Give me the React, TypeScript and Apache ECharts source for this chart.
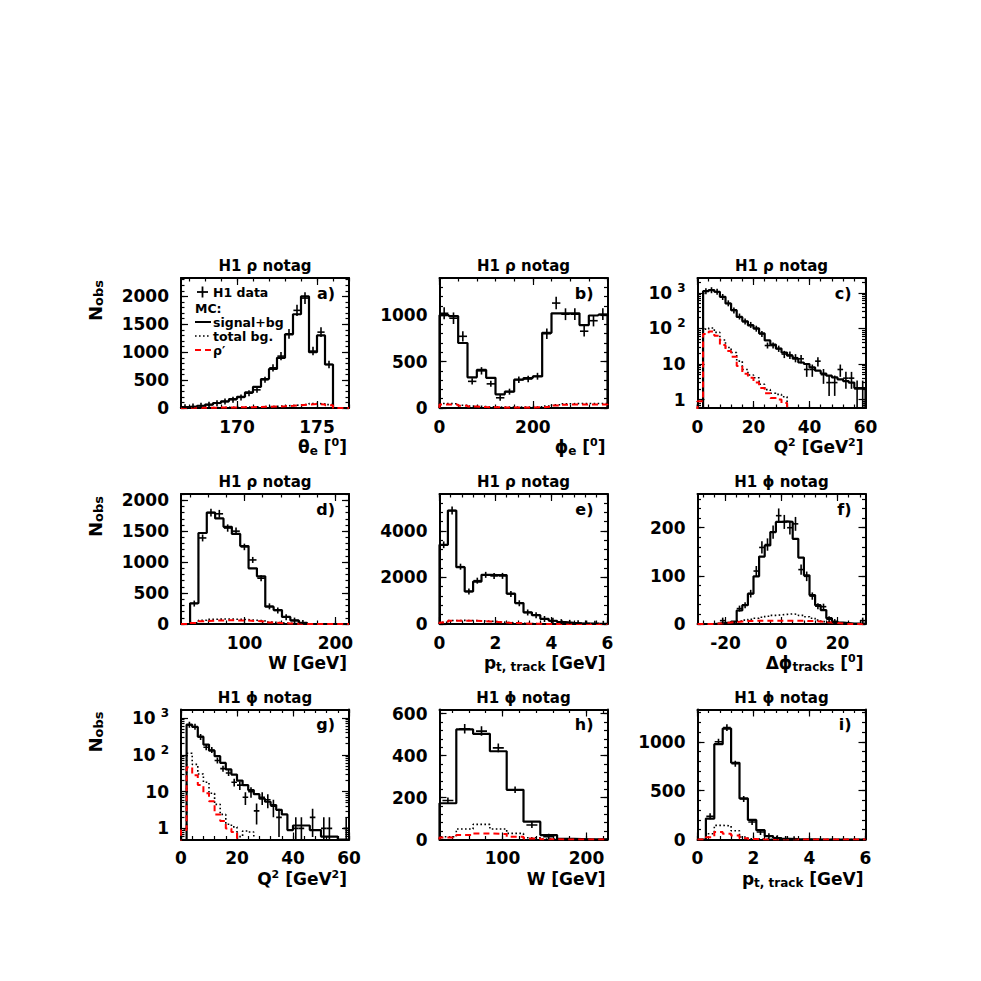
import React, { useEffect, useRef } from 'react';
import * as echarts from 'echarts';

const F = '"DejaVu Sans", "Liberation Sans", Arial, sans-serif';

function binEdges(start: number, width: number, n: number): number[] {
  const e: number[] = [];
  for (let k = 0; k <= n; k++) e.push(Math.round((start + k * width) * 1e6) / 1e6);
  return e;
}

const RHO_TITLE = 'H1 ρ notag';
const PHI_TITLE = 'H1 ϕ notag';

// ---------- a) theta_e ----------
const aEdges = binEdges(166.5, 0.5, 19);
const aMC = [15, 25, 40, 60, 90, 120, 160, 200, 280, 380, 520, 700, 900, 1320, 1680, 2000, 1000, 1300, 780];
const aData = [15, 25, 40, 60, 85, 115, 150, 190, 265, 325, 505, 720, 930, 1330, 1750, 1970, 1020, 1360, 780];
const aBg = [4, 5, 6, 7, 9, 11, 13, 15, 18, 22, 26, 30, 38, 45, 55, 65, 80, 75, 60];
const aRho = [3, 4, 5, 6, 7, 9, 11, 13, 15, 18, 22, 26, 32, 40, 50, 60, 72, 62, 48];
const aXLabels = [170, 175];
const aYLabels = [0, 500, 1000, 1500, 2000];

// ---------- b) phi_e ----------
const bEdges = binEdges(0, 20, 18);
const bMC = [1000, 990, 700, 330, 410, 325, 147, 176, 305, 323, 340, 810, 1020, 1020, 1020, 893, 996, 1004];
const bData = [1020, 967, 772, 287, 400, 260, 110, 176, 305, 312, 342, 800, 1130, 1010, 1010, 827, 940, 1010];
const bBg = [48, 45, 30, 20, 15, 12, 10, 10, 10, 10, 12, 20, 35, 45, 48, 48, 48, 48];
const bRho = [38, 36, 25, 15, 10, 8, 6, 6, 6, 6, 8, 15, 28, 36, 38, 38, 38, 38];
const bXLabels = [0, 200];
const bYLabels = [0, 500, 1000];

// ---------- c) Q2 (rho) ----------
const cEdges = binEdges(0, 2, 30);
const cMC = [0, 1110, 1190, 1070, 770, 500, 324, 209, 158, 122, 100, 72, 46, 35, 27, 21, 17, 14, 11, 10, 8, 6.5, 5.4, 4.7, 4.2, 3.7, 3.3, 3.0, 2.1, 2.1];
const cData = [0, 1100, 1180, 1060, 760, 505, 320, 215, 155, 125, 98, 70, 33, 33, 27, 19, 18, 15, 14, 7, 7, 12, 5, 3, 3, 7, 4, 4, 2, 2];
const cBg = [0.9, 95, 102, 77, 47, 29, 21, 12, 7, 4.9, 4.1, 2.7, 1.9, 1.5, 1.4, 1.2, 0, 0, 0, 0, 0, 0, 0, 0, 0, 0, 0, 0, 0, 0];
const cRho = [0.9, 69, 82, 62, 34, 23, 16, 8.8, 5.3, 4.1, 3, 2.1, 1.5, 1.1, 1, 0.8, 0, 0, 0, 0, 0, 0, 0, 0, 0, 0, 0, 0, 0, 0];
const cXLabels = [0, 20, 40, 60];
const cYLabels = [1, 10, 100, 1000];

// ---------- d) W (rho) ----------
const dEdges = binEdges(40, 9.2, 14);
const dMC = [335, 1470, 1800, 1705, 1570, 1455, 1260, 900, 770, 280, 225, 115, 60, 20];
const dData = [330, 1390, 1800, 1780, 1550, 1500, 1245, 1035, 740, 285, 220, 110, 55, 18];
const dBg = [20, 60, 75, 80, 80, 75, 70, 60, 50, 30, 20, 10, 5, 2];
const dRho = [15, 45, 55, 58, 60, 58, 55, 48, 40, 25, 15, 8, 4, 2];
const dXLabels = [100, 200];
const dYLabels = [0, 500, 1000, 1500, 2000];

// ---------- e) pt,track (rho) ----------
const eEdges = binEdges(0, 0.3, 20);
const eMC = [3400, 4870, 2440, 1400, 1820, 2110, 2100, 2100, 1300, 900, 500, 380, 220, 140, 80, 50, 30, 20, 12, 8];
const eData = [3400, 4870, 2460, 1390, 1860, 2110, 2065, 2065, 1290, 890, 495, 375, 215, 135, 80, 50, 30, 20, 12, 8];
const eBg = [70, 150, 155, 150, 140, 120, 100, 70, 50, 30, 18, 10, 5, 3, 2, 1, 0, 0, 0, 0];
const eRho = [60, 140, 145, 140, 130, 110, 90, 60, 40, 25, 15, 8, 4, 2, 1, 0, 0, 0, 0, 0];
const eXLabels = [0, 2, 4, 6];
const eYLabels = [0, 2000, 4000];

// ---------- f) delta phi tracks (phi) ----------
const fEdges = binEdges(-30, 2, 30);
const fMC = [0, 0, 0, 1, 2, 3, 5, 28, 39, 63, 99, 140, 163, 191, 212, 213, 212, 177, 138, 101, 60, 39, 29, 12, 5, 3, 2, 1, 1, 1];
const fData = [0, 0, 0, 0, 7, 0, 0, 32, 39, 63, 110, 159, 165, 191, 225, 212, 200, 208, 113, 99, 58, 37, 36, 10, 4, 0, 0, 0, 0, 7];
const fBg = [0, 0, 0, 1, 2, 3, 4, 6, 8, 10, 12, 14, 16, 18, 19, 20, 21, 20, 18, 15, 12, 8, 5, 3, 2, 1, 0, 0, 0, 0];
const fRho = [0, 0, 0, 1, 2, 3, 4, 5, 6, 6, 7, 7, 7, 7, 7, 7, 7, 7, 7, 6, 6, 5, 4, 3, 2, 1, 0, 0, 0, 0];
const fXLabels = [-20, 0, 20];
const fYLabels = [0, 100, 200];

// ---------- g) Q2 (phi) ----------
const gEdges = binEdges(0, 2, 30);
const gMC = [0, 660, 570, 310, 190, 130, 92, 60, 40, 29, 20, 15, 11, 8.5, 6.4, 5.3, 4.3, 3.2, 2.4, 0.9, 1.2, 1.2, 1.2, 0.9, 0.9, 0.6, 0.6, 0.6, 0.5, 0.5];
const gData = [0, 650, 575, 305, 160, 135, 70, 42, 32, 18, 15, 7, 10, 3, 7, 6, 4, 2, 0, 0, 1, 1, 0, 2, 0, 1, 1, 0, 0, 1];
const gBg = [0.9, 110, 55, 30, 18, 9, 4.5, 2.4, 1.3, 1.1, 0.6, 0.85, 0.8, 0, 0, 0, 0, 0, 0, 0, 0, 0, 0, 0, 0, 0, 0, 0, 0, 0];
const gRho = [0.9, 46, 28, 15, 9, 5.5, 2.4, 1.6, 1, 0.8, 0, 0, 0, 0, 0, 0, 0, 0, 0, 0, 0, 0, 0, 0, 0, 0, 0, 0, 0, 0];
const gXLabels = [0, 20, 40, 60];
const gYLabels = [1, 10, 100, 1000];

// ---------- h) W (phi) ----------
const hEdges = binEdges(25, 20, 10);
const hMC = [173, 525, 504, 421, 237, 85, 21, 3, 1, 0.5];
const hData = [186, 528, 517, 437, 237, 69, 13, 0, 0, 0];
const hBg = [13, 50, 72, 50, 29, 8, 2, 0, 0, 0];
const hRho = [10, 21, 29, 26, 13, 5, 1, 0, 0, 0];
const hXLabels = [100, 200];
const hYLabels = [0, 200, 400, 600];

// ---------- i) pt,track (phi) ----------
const iEdges = binEdges(0, 0.3, 20);
const iMC = [0, 214, 975, 1135, 785, 420, 200, 95, 35, 15, 7, 4, 2, 1, 0, 0, 0, 0, 0, 0];
const iData = [0, 238, 1000, 1145, 776, 414, 179, 76, 34, 14, 6, 3, 0, 0, 0, 0, 0, 0, 0, 0];
const iBg = [0, 59, 145, 140, 90, 25, 8, 3, 1, 0, 0, 0, 0, 0, 0, 0, 0, 0, 0, 0];
const iRho = [0, 24, 76, 60, 42, 14, 4, 1, 0, 0, 0, 0, 0, 0, 0, 0, 0, 0, 0, 0];
const iXLabels = [0, 2, 4, 6];
const iYLabels = [0, 500, 1000];

const X_TITLES = {
  theta: '{m|θ}{s|e}{m| [}{p|0}{m|]}',
  phi: '{m|ϕ}{s|e}{m| [}{p|0}{m|]}',
  q2: '{m|Q}{p|2}{m| [GeV}{p|2}{m|]}',
  w: '{m|W [GeV]}',
  pt: '{m|p}{s|t, track}{m| [GeV]}',
  dphi: '{m|Δϕ}{s|tracks}{m| [}{p|0}{m|]}',
};

type Panel = {
  title: string; letter: string; xTitle: string;
  xMin: number; xMax: number; xLabels: number[]; xMinorStep: number;
  yLog: boolean; yMin: number; yMax: number; yLabels: number[]; yMinorStep: number;
  edges: number[]; mc: number[]; data: number[]; bg: number[]; rho: number[]; errScale: number;
};

const panels: Panel[] = [
  { title: RHO_TITLE, letter: 'a)', xTitle: X_TITLES.theta, xMin: 166.5, xMax: 177, xLabels: aXLabels, xMinorStep: 1,
    yLog: false, yMin: 0, yMax: 2330, yLabels: aYLabels, yMinorStep: 100,
    edges: aEdges, mc: aMC, data: aData, bg: aBg, rho: aRho, errScale: 2.4 },
  { title: RHO_TITLE, letter: 'b)', xTitle: X_TITLES.phi, xMin: 0, xMax: 360, xLabels: bXLabels, xMinorStep: 40,
    yLog: false, yMin: 0, yMax: 1400, yLabels: bYLabels, yMinorStep: 100,
    edges: bEdges, mc: bMC, data: bData, bg: bBg, rho: bRho, errScale: 2 },
  { title: RHO_TITLE, letter: 'c)', xTitle: X_TITLES.q2, xMin: 0, xMax: 60, xLabels: cXLabels, xMinorStep: 4,
    yLog: true, yMin: 0.58, yMax: 2600, yLabels: cYLabels, yMinorStep: 0,
    edges: cEdges, mc: cMC, data: cData, bg: cBg, rho: cRho, errScale: 1 },
  { title: RHO_TITLE, letter: 'd)', xTitle: X_TITLES.w, xMin: 30, xMax: 215, xLabels: dXLabels, xMinorStep: 20,
    yLog: false, yMin: 0, yMax: 2100, yLabels: dYLabels, yMinorStep: 100,
    edges: dEdges, mc: dMC, data: dData, bg: dBg, rho: dRho, errScale: 1.5 },
  { title: RHO_TITLE, letter: 'e)', xTitle: X_TITLES.pt, xMin: 0, xMax: 6, xLabels: eXLabels, xMinorStep: 0.4,
    yLog: false, yMin: 0, yMax: 5580, yLabels: eYLabels, yMinorStep: 400,
    edges: eEdges, mc: eMC, data: eData, bg: eBg, rho: eRho, errScale: 2.5 },
  { title: PHI_TITLE, letter: 'f)', xTitle: X_TITLES.dphi, xMin: -30, xMax: 30, xLabels: fXLabels, xMinorStep: 4,
    yLog: false, yMin: 0, yMax: 270, yLabels: fYLabels, yMinorStep: 20,
    edges: fEdges, mc: fMC, data: fData, bg: fBg, rho: fRho, errScale: 1 },
  { title: PHI_TITLE, letter: 'g)', xTitle: X_TITLES.q2, xMin: 0, xMax: 60, xLabels: gXLabels, xMinorStep: 4,
    yLog: true, yMin: 0.5, yMax: 1700, yLabels: gYLabels, yMinorStep: 0,
    edges: gEdges, mc: gMC, data: gData, bg: gBg, rho: gRho, errScale: 1 },
  { title: PHI_TITLE, letter: 'h)', xTitle: X_TITLES.w, xMin: 25, xMax: 225, xLabels: hXLabels, xMinorStep: 20,
    yLog: false, yMin: 0, yMax: 620, yLabels: hYLabels, yMinorStep: 40,
    edges: hEdges, mc: hMC, data: hData, bg: hBg, rho: hRho, errScale: 1 },
  { title: PHI_TITLE, letter: 'i)', xTitle: X_TITLES.pt, xMin: 0, xMax: 6, xLabels: iXLabels, xMinorStep: 0.4,
    yLog: false, yMin: 0, yMax: 1330, yLabels: iYLabels, yMinorStep: 100,
    edges: iEdges, mc: iMC, data: iData, bg: iBg, rho: iRho, errScale: 1 },
];

// ---------- layout ----------
const COL_LEFT = [181, 439.5, 697.5];
const ROW_TOP = [278, 494, 709.5];
const PW = 168;
const PH = 130;

function linTicks(min: number, max: number, step: number): number[] {
  const out: number[] = [];
  const k0 = Math.ceil(min / step - 1e-9);
  const k1 = Math.floor(max / step + 1e-9);
  for (let k = k0; k <= k1; k++) out.push(Math.round(k * step * 1e6) / 1e6);
  return out;
}
function logMinorTicks(min: number, max: number): number[] {
  const out: number[] = [];
  for (let d = Math.floor(Math.log10(min)); d <= Math.ceil(Math.log10(max)); d++) {
    for (let m = 2; m <= 9; m++) {
      const v = m * Math.pow(10, d);
      if (v >= min && v <= max) out.push(v);
    }
  }
  return out;
}

function stepPoints(p: Panel, vals: number[]): number[][] {
  const floor = p.yLog ? 1e-4 : 0;
  const e = p.edges;
  const pts: number[][] = [[p.xMin, floor], [e[0], floor]];
  for (let k = 0; k < vals.length; k++) {
    const v = vals[k] > 0 ? vals[k] : floor;
    pts.push([e[k], v], [e[k + 1], v]);
  }
  pts.push([e[vals.length], floor], [p.xMax, floor]);
  return pts;
}

function buildOption() {
  const grids: any[] = [];
  const xAxes: any[] = [];
  const yAxes: any[] = [];
  const series: any[] = [];
  const graphics: any[] = [];

  const tickStyle = { color: '#000', width: 1.2 };
  const frameLine = { show: true, onZero: false, lineStyle: { color: '#000', width: 2 } };
  const noLine = { show: false, onZero: false };
  const labelBase = { color: '#000', fontFamily: F, fontWeight: 'bold', fontSize: 17 };

  panels.forEach((p, i) => {
    const col = i % 3;
    const row = Math.floor(i / 3);
    const left = COL_LEFT[col];
    const top = ROW_TOP[row];
    grids.push({ left, top, width: PW, height: PH, containLabel: false, show: false });

    const xMinor = linTicks(p.xMin, p.xMax, p.xMinorStep);
    const baseX = { gridIndex: i, type: 'value', min: p.xMin, max: p.xMax, splitLine: { show: false }, silent: true };
    xAxes.push({ ...baseX, position: 'bottom', axisLine: frameLine,
      axisTick: { show: true, inside: true, length: 7, lineStyle: tickStyle, customValues: p.xLabels },
      axisLabel: { ...labelBase, show: true, margin: 10, lineHeight: 17, customValues: p.xLabels, formatter: (v: number) => String(v) } });
    xAxes.push({ ...baseX, position: 'bottom', axisLine: noLine,
      axisTick: { show: true, inside: true, length: 3.5, lineStyle: tickStyle, customValues: xMinor }, axisLabel: { show: false } });
    xAxes.push({ ...baseX, position: 'top', axisLine: frameLine,
      axisTick: { show: true, inside: true, length: 7, lineStyle: tickStyle, customValues: p.xLabels }, axisLabel: { show: false } });
    xAxes.push({ ...baseX, position: 'top', axisLine: noLine,
      axisTick: { show: true, inside: true, length: 3.5, lineStyle: tickStyle, customValues: xMinor }, axisLabel: { show: false } });

    const yMinor = p.yLog ? logMinorTicks(p.yMin, p.yMax) : linTicks(p.yMin, p.yMax, p.yMinorStep);
    const baseY: any = p.yLog
      ? { gridIndex: i, type: 'log', logBase: 10, min: p.yMin, max: p.yMax, splitLine: { show: false }, silent: true }
      : { gridIndex: i, type: 'value', min: p.yMin, max: p.yMax, splitLine: { show: false }, silent: true };
    const yFormatter = p.yLog
      ? (v: number) => {
          const ex = Math.round(Math.log10(v));
          if (ex <= 0) return '1';
          if (ex === 1) return '10';
          return '10{sup|' + ex + '}';
        }
      : (v: number) => String(v);
    yAxes.push({ ...baseY, position: 'left', axisLine: frameLine,
      axisTick: { show: true, inside: true, length: 7, lineStyle: tickStyle, customValues: p.yLabels },
      axisLabel: { ...labelBase, show: true, margin: 12, lineHeight: 22, customValues: p.yLabels, formatter: yFormatter,
        rich: { sup: { fontSize: 12, fontWeight: 'bold', fontFamily: F, color: '#000', verticalAlign: 'top', lineHeight: 12, padding: [0, 0, 0, 5] } } } });
    yAxes.push({ ...baseY, position: 'left', axisLine: noLine,
      axisTick: { show: true, inside: true, length: 3.5, lineStyle: tickStyle, customValues: yMinor }, axisLabel: { show: false } });
    yAxes.push({ ...baseY, position: 'right', axisLine: frameLine,
      axisTick: { show: true, inside: true, length: 7, lineStyle: tickStyle, customValues: p.yLabels }, axisLabel: { show: false } });
    yAxes.push({ ...baseY, position: 'right', axisLine: noLine,
      axisTick: { show: true, inside: true, length: 3.5, lineStyle: tickStyle, customValues: yMinor }, axisLabel: { show: false } });

    const ax = 4 * i;
    const lineSeries = (name: string, vals: number[], lineStyle: any, z: number) => ({
      name, type: 'line', xAxisIndex: ax, yAxisIndex: ax, data: stepPoints(p, vals),
      showSymbol: false, symbol: 'none', clip: true, silent: true, z, lineStyle,
    });
    series.push(lineSeries('signal+bg ' + p.letter, p.mc, { color: '#000', width: 2.2, type: 'solid' }, 2));
    series.push(lineSeries('total bg. ' + p.letter, p.bg, { color: '#000', width: 1.6, type: [1.6, 2.4] }, 3));
    series.push(lineSeries('rho prime ' + p.letter, p.rho, { color: '#ff0000', width: 2, type: [6, 4] }, 4));

    const centers = p.data.map((v, k) => [(p.edges[k] + p.edges[k + 1]) / 2, v, p.edges[k + 1] - p.edges[k]]);
    series.push({
      name: 'H1 data ' + p.letter, type: 'custom', xAxisIndex: ax, yAxisIndex: ax, data: centers, clip: true, silent: true, z: 5,
      renderItem: (params: any, api: any) => {
        const x = api.value(0);
        const y = api.value(1);
        const w = api.value(2);
        if (!(y > 0)) return null;
        const c = api.coord([x, y]);
        const xl = api.coord([x - w / 2, y])[0];
        const xr = api.coord([x + w / 2, y])[0];
        const hw = Math.max(2.8, Math.min(5.5, 0.45 * (xr - xl)));
        const err = p.errScale * Math.sqrt(y);
        const lo = p.yLog ? Math.max(y - err, p.yMin * 0.3) : Math.max(y - err, 0);
        let yTop = api.coord([x, y + err])[1];
        let yBot = api.coord([x, lo])[1];
        yTop = Math.min(yTop, c[1] - 3);
        yBot = Math.max(yBot, c[1] + 3);
        const st = { stroke: '#000', lineWidth: 1.6 };
        return {
          type: 'group',
          children: [
            { type: 'line', shape: { x1: c[0] - hw, y1: c[1], x2: c[0] + hw, y2: c[1] }, style: st },
            { type: 'line', shape: { x1: c[0], y1: yTop, x2: c[0], y2: yBot }, style: st },
          ],
        };
      },
    });

    // texts
    graphics.push({ type: 'text', x: left + PW / 2, y: top - 12, z: 10,
      style: { text: p.title, fontSize: 15, fontWeight: 'bold', fontFamily: F, fill: '#000', align: 'center', verticalAlign: 'middle' } });
    graphics.push({ type: 'text', x: left + PW - 14, y: top + 15, z: 10,
      style: { text: p.letter, fontSize: 16, fontWeight: 'bold', fontFamily: F, fill: '#000', align: 'right', verticalAlign: 'middle' } });
    graphics.push({ type: 'text', x: left + PW - 2, y: top + PH + 39, z: 10,
      style: { text: p.xTitle, align: 'right', verticalAlign: 'middle', fill: '#000',
        rich: {
          m: { fontSize: 17, fontWeight: 'bold', fontFamily: F, fill: '#000', lineHeight: 20, verticalAlign: 'middle' },
          s: { fontSize: 12, fontWeight: 'bold', fontFamily: F, fill: '#000', lineHeight: 10, verticalAlign: 'bottom' },
          p: { fontSize: 11, fontWeight: 'bold', fontFamily: F, fill: '#000', lineHeight: 13, verticalAlign: 'top' },
        } } });
    if (col === 0) {
      graphics.push({ type: 'text', x: 95, y: top + 2, rotation: Math.PI / 2, z: 10,
        style: { text: '{n|N}{o|obs}', align: 'right', verticalAlign: 'middle', fill: '#000',
          rich: {
            n: { fontSize: 18, fontWeight: 'bold', fontFamily: F, fill: '#000', lineHeight: 20, verticalAlign: 'middle' },
            o: { fontSize: 13, fontWeight: 'bold', fontFamily: F, fill: '#000', lineHeight: 15, verticalAlign: 'bottom' },
          } } });
    }
  });

  // legend in panel a
  const lg = { fontSize: 12.5, lineHeight: 13, fontWeight: 'bold', fontFamily: F, fill: '#000', align: 'left', verticalAlign: 'middle' };
  graphics.push({ type: 'line', z: 10, shape: { x1: 197, y1: 292, x2: 208, y2: 292 }, style: { stroke: '#000', lineWidth: 1.8 } });
  graphics.push({ type: 'line', z: 10, shape: { x1: 202.5, y1: 286.5, x2: 202.5, y2: 297.5 }, style: { stroke: '#000', lineWidth: 1.8 } });
  graphics.push({ type: 'text', z: 10, x: 213, y: 292, style: { ...lg, text: 'H1 data' } });
  graphics.push({ type: 'text', z: 10, x: 195, y: 308, style: { ...lg, text: 'MC:' } });
  graphics.push({ type: 'line', z: 10, shape: { x1: 195, y1: 322, x2: 211, y2: 322 }, style: { stroke: '#000', lineWidth: 2 } });
  graphics.push({ type: 'text', z: 10, x: 213, y: 322, style: { ...lg, text: 'signal+bg' } });
  graphics.push({ type: 'line', z: 10, shape: { x1: 195, y1: 336, x2: 211, y2: 336 }, style: { stroke: '#000', lineWidth: 1.6, lineDash: [1.6, 2.4] } });
  graphics.push({ type: 'text', z: 10, x: 213, y: 336, style: { ...lg, text: 'total bg.' } });
  graphics.push({ type: 'line', z: 10, shape: { x1: 195, y1: 350, x2: 211, y2: 350 }, style: { stroke: '#ff0000', lineWidth: 2, lineDash: [6, 4] } });
  graphics.push({ type: 'text', z: 10, x: 213, y: 350, style: { ...lg, text: 'ρ′' } });

  return {
    animation: false,
    backgroundColor: '#ffffff',
    textStyle: { fontFamily: F },
    grid: grids,
    xAxis: xAxes,
    yAxis: yAxes,
    series,
    graphic: { elements: graphics },
  };
}

export default function App() {
  const ref = useRef<HTMLDivElement>(null);
  useEffect(() => {
    if (!ref.current) return;
    const chart = echarts.init(ref.current, undefined, { renderer: 'svg' });
    chart.setOption(buildOption() as any);
    return () => chart.dispose();
  }, []);
  return <div ref={ref} style={{ position: 'absolute', left: 0, top: 0, width: 981, height: 981, background: '#fff' }} />;
}
